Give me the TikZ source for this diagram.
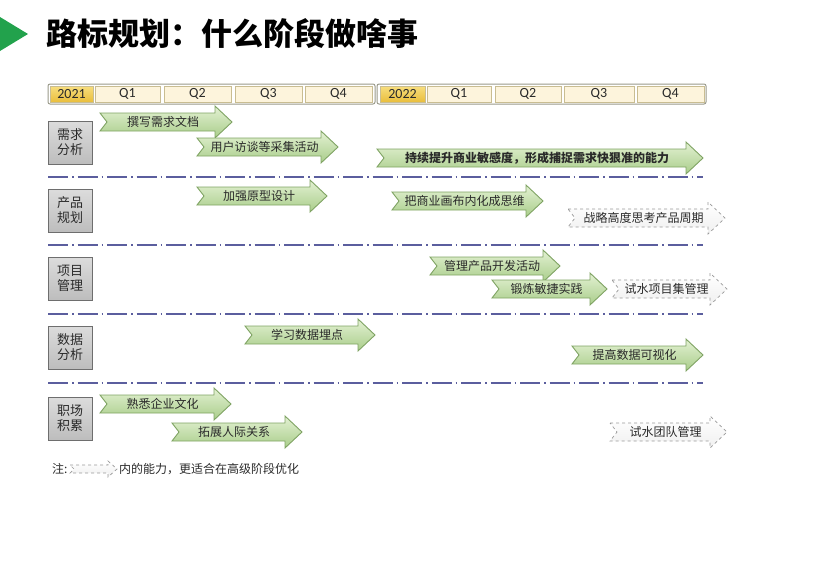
\documentclass[tikz,border=0pt]{standalone}
\usepackage{fontspec}
\setmainfont{Noto Sans CJK SC}
\newfontfamily\latinf{Carlito}
\definecolor{arrfillA}{HTML}{E3F1D3}
\definecolor{arrfillB}{HTML}{A9CD8A}
\definecolor{arrline}{HTML}{7FA363}
\definecolor{sepline}{HTML}{5B5E9E}
\definecolor{boxA}{HTML}{DCDCDC}
\definecolor{boxB}{HTML}{BDBDBD}
\definecolor{boxline}{HTML}{6E6E6E}
\definecolor{yearA}{HTML}{F8DE7E}
\definecolor{yearB}{HTML}{E9BE3C}
\definecolor{qfill}{HTML}{FDF4DC}
\definecolor{qline}{HTML}{C9BD92}
\definecolor{frameline}{HTML}{9A9A8A}
\definecolor{titlegreen}{HTML}{22A24C}
\definecolor{txt}{HTML}{2A2A2A}
\newcommand{\chevr}[6]{%
  \path[#5] (#2,#4-9) -- (#3-17,#4-9) -- (#3-17,#4-16) -- (#3,#4) -- (#3-17,#4+16) -- (#3-17,#4+9) -- (#2,#4+9) -- (#2+7,#4) -- cycle;
  \node[arrtext] (#1) at ({(#2+#3)/2-3},#4) {#6};%
}
\newcommand{\qcell}[5]{%
  \node[#5, minimum width={#3-#2}] (#1) at ({(#2+#3)/2},94) {\latinf #4};%
}
\begin{document}
\begin{tikzpicture}[x=1pt,y=-1pt,
  solidarr/.style={draw=arrline, line width=0.9pt, top color=arrfillA, bottom color=arrfillB},
  dasharr/.style={draw=gray!80, line width=0.7pt, dashed, top color=white, bottom color=gray!12},
  arrtext/.style={font=\fontsize{12}{12}\selectfont, text=txt, inner sep=0pt},
  rowbox/.style={draw=boxline, line width=0.9pt, top color=boxA, bottom color=boxB, minimum width=44pt, minimum height=43pt, align=center, font=\fontsize{13}{15}\selectfont, text=txt, inner sep=0pt},
  sep/.style={draw=sepline, line width=1.8pt, dash pattern=on 20pt off 4pt on 1.5pt off 4pt},
  yearcell/.style={draw=qline, line width=0.5pt, top color=yearA, bottom color=yearB, minimum height=16pt, inner sep=0pt, font=\fontsize{14}{14}\selectfont, text=txt},
  qcellst/.style={draw=qline, line width=0.5pt, fill=qfill, minimum height=16pt, inner sep=0pt, font=\fontsize{14}{14}\selectfont, text=txt},
  hframe/.style={draw=frameline, line width=1pt, rounded corners=2pt, fill=white}
]
\useasboundingbox (0,0) rectangle (839,568);
% title
\fill[titlegreen] (0,17) -- (28,34) -- (0,51) -- cycle;
\node[anchor=west, inner sep=0pt, font=\fontsize{31}{31}\selectfont\bfseries] (title) at (46,34) {路标规划：什么阶段做啥事};
% header bars
\path[hframe] (48,84) rectangle (375,104);
\qcell{y21}{50}{93}{2021}{yearcell}
\qcell{a1}{95}{160}{Q1}{qcellst}
\qcell{a2}{164}{231}{Q2}{qcellst}
\qcell{a3}{235}{302}{Q3}{qcellst}
\qcell{a4}{305}{372}{Q4}{qcellst}
\path[hframe] (377,84) rectangle (706,104);
\qcell{y22}{380}{425}{2022}{yearcell}
\qcell{b1}{427}{491}{Q1}{qcellst}
\qcell{b2}{495}{561}{Q2}{qcellst}
\qcell{b3}{564}{634}{Q3}{qcellst}
\qcell{b4}{637}{704}{Q4}{qcellst}
% row boxes
\node[rowbox] (r1) at (70,142.5) {需求\\分析};
\node[rowbox] (r2) at (70,210.5) {产品\\规划};
\node[rowbox] (r3) at (70,278.5) {项目\\管理};
\node[rowbox] (r4) at (70,347.5) {数据\\分析};
\node[rowbox] (r5) at (70,418.5) {职场\\积累};
% separators
\coordinate (s1a) at (48,177); \coordinate (s1b) at (703,177);
\coordinate (s2a) at (48,245); \coordinate (s2b) at (703,245);
\coordinate (s3a) at (48,314); \coordinate (s3b) at (703,314);
\coordinate (s4a) at (48,383); \coordinate (s4b) at (703,383);
\draw[sep] (s1a) -- (s1b);
\draw[sep] (s2a) -- (s2b);
\draw[sep] (s3a) -- (s3b);
\draw[sep] (s4a) -- (s4b);
% arrows
\chevr{t1}{100}{232}{122}{solidarr}{撰写需求文档}
\chevr{t2}{197}{338}{147}{solidarr}{用户访谈等采集活动}
\chevr{t3}{377}{703}{158}{solidarr}{\bfseries 持续提升商业敏感度，形成捕捉需求快狠准的能力}
\chevr{t4}{197}{327}{196}{solidarr}{加强原型设计}
\chevr{t5}{392}{543}{201}{solidarr}{把商业画布内化成思维}
\chevr{t6}{568}{725}{218}{dasharr}{战略高度思考产品周期}
\chevr{t7}{430}{560}{266}{solidarr}{管理产品开发活动}
\chevr{t8}{492}{607}{289}{solidarr}{锻炼敏捷实践}
\chevr{t9}{612}{727}{289}{dasharr}{试水项目集管理}
\chevr{t10}{245}{375}{335}{solidarr}{学习数据埋点}
\chevr{t11}{572}{703}{355}{solidarr}{提高数据可视化}
\chevr{t12}{100}{231}{404}{solidarr}{熟悉企业文化}
\chevr{t13}{172}{302}{432}{solidarr}{拓展人际关系}
\chevr{t14}{610}{727}{432}{dasharr}{试水团队管理}
% note
\node[anchor=west, inner sep=0pt, font=\fontsize{12}{12}\selectfont, text=txt] (n1) at (52,469) {注:};
\path[dasharr] (70,465) -- (108,465) -- (108,461) -- (117,469) -- (108,477) -- (108,473) -- (70,473) -- (74,469) -- cycle;
\node[anchor=west, inner sep=0pt, font=\fontsize{12}{12}\selectfont, text=txt] (n2) at (119,469) {内的能力，更适合在高级阶段优化};
\end{tikzpicture}
\end{document}
